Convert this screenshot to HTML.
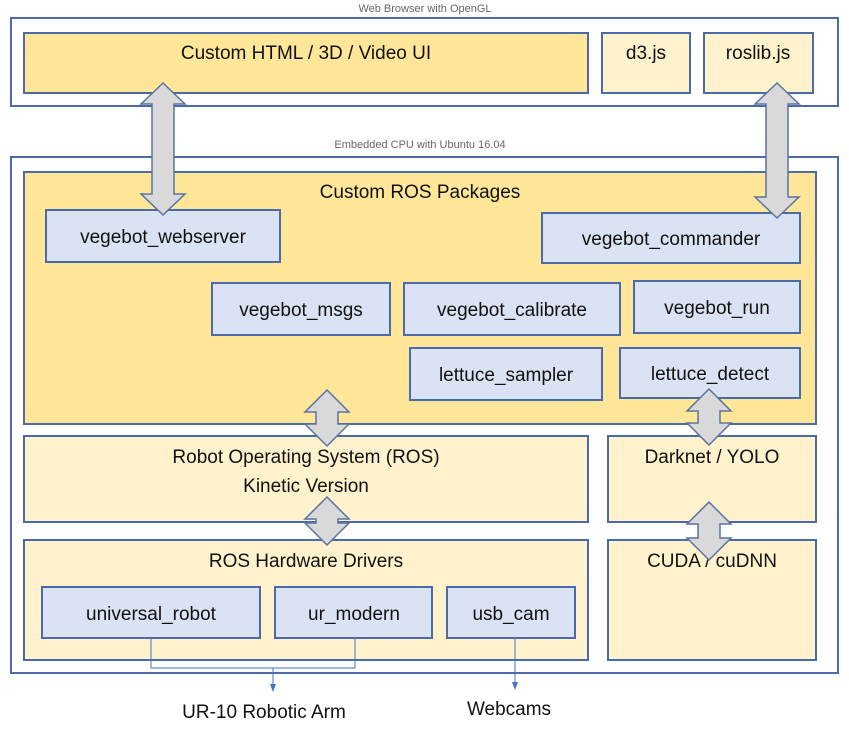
<!DOCTYPE html>
<html><head><meta charset="utf-8"><style>
html,body{margin:0;padding:0;background:#fff;}
svg{display:block;}
text{font-family:"Liberation Sans",sans-serif;fill:#111;}
</style></head><body>
<svg width="849" height="733" viewBox="0 0 849 733" xmlns="http://www.w3.org/2000/svg">
<defs>
<marker id="ah" markerWidth="8" markerHeight="8" refX="4" refY="4" orient="auto"><path d="M0,1 L8,4 L0,7 z" fill="#4472c4"/></marker>
</defs>
<g stroke="#4a6aa8" stroke-width="2">
<rect x="11" y="18" width="827" height="88" fill="#fff"/>
<rect x="24" y="33" width="564" height="60" fill="#ffe699"/>
<rect x="602" y="33" width="88" height="60" fill="#fff2cc"/>
<rect x="704" y="33" width="109" height="60" fill="#fff2cc"/>
<rect x="11" y="157" width="827" height="516" fill="#fff"/>
<rect x="24" y="172" width="792" height="252" fill="#ffe699"/>
<rect x="24" y="436" width="564" height="86" fill="#fff2cc"/>
<rect x="608" y="436" width="208" height="86" fill="#fff2cc"/>
<rect x="24" y="540" width="564" height="120" fill="#fff2cc"/>
<rect x="608" y="540" width="208" height="120" fill="#fff2cc"/>
</g>
<g stroke="#4a6aa8" stroke-width="2" fill="#dae3f3">
<rect x="46" y="210" width="234" height="52"/>
<rect x="542" y="213" width="258" height="50"/>
<rect x="212" y="283" width="178" height="52"/>
<rect x="404" y="283" width="216" height="52"/>
<rect x="634" y="281" width="166" height="52"/>
<rect x="410" y="348" width="192" height="52"/>
<rect x="620" y="348" width="180" height="50"/>
<rect x="42" y="587" width="218" height="51"/>
<rect x="275" y="587" width="157" height="51"/>
<rect x="447" y="587" width="128" height="51"/>
</g>
<g font-size="11" text-anchor="middle"><text x="425" y="12" style="fill:#666">Web Browser with OpenGL</text>
<text x="420" y="148" style="fill:#666">Embedded CPU with Ubuntu 16.04</text></g>
<g font-size="19" text-anchor="middle">
<text x="306" y="59">Custom HTML / 3D / Video UI</text>
<text x="646" y="59">d3.js</text>
<text x="758" y="59">roslib.js</text>
<text x="420" y="198">Custom ROS Packages</text>
<text x="163" y="243">vegebot_webserver</text>
<text x="671" y="245">vegebot_commander</text>
<text x="301" y="316">vegebot_msgs</text>
<text x="512" y="316">vegebot_calibrate</text>
<text x="717" y="314">vegebot_run</text>
<text x="506" y="381">lettuce_sampler</text>
<text x="710" y="380">lettuce_detect</text>
<text x="306" y="463">Robot Operating System (ROS)</text>
<text x="306" y="492">Kinetic Version</text>
<text x="712" y="463">Darknet / YOLO</text>
<text x="306" y="567">ROS Hardware Drivers</text>
<text x="712" y="567">CUDA / cuDNN</text>
<text x="151" y="620">universal_robot</text>
<text x="354" y="620">ur_modern</text>
<text x="511" y="620">usb_cam</text>
<text x="264" y="718">UR-10 Robotic Arm</text>
<text x="509" y="715">Webcams</text>
</g>
<g fill="#d9d9d9" stroke="#5a73a0" stroke-width="1.5">
<polygon points="163,83 185,104 174,104 174,194 185,194 163,215 141,194 152,194 152,104 141,104"/>
<polygon points="777,83 799,104 788,104 788,197 799,197 777,218 755,197 766,197 766,104 755,104"/>
<polygon points="327,390 349,412 338,412 338,424 349,424 327,446 305,424 316,424 316,412 305,412"/>
<polygon points="327,497 349,519 338,519 338,523 349,523 327,545 305,523 316,523 316,519 305,519"/>
<polygon points="709,389 731,411 720,411 720,423 731,423 709,445 687,423 698,423 698,411 687,411"/>
<polygon points="709,502 731,524 720,524 720,538 731,538 709,560 687,538 698,538 698,524 687,524"/>
</g>
<g stroke="#4472c4" stroke-width="1" fill="none">
<polyline points="151,638 151,668 355,668 355,638"/>
<line x1="273" y1="668" x2="273" y2="688" marker-end="url(#ah)"/>
<line x1="515" y1="638" x2="515" y2="686" marker-end="url(#ah)"/>
</g>
</svg>
</body></html>
